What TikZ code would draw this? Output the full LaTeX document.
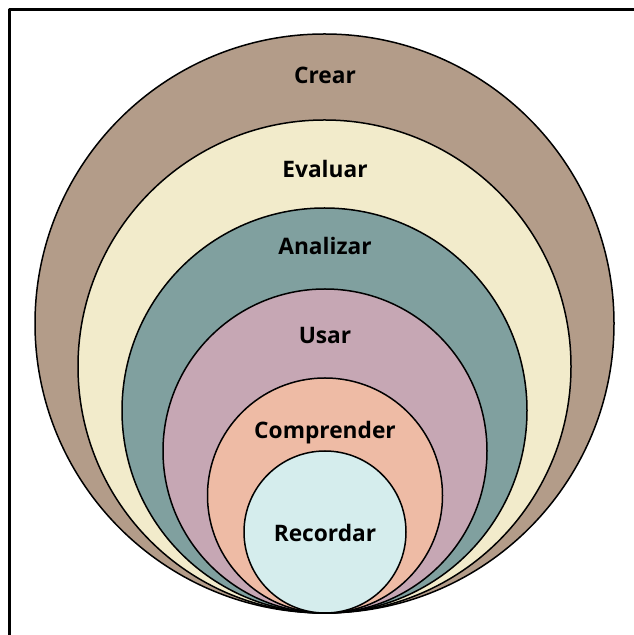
\documentclass[tikz,border=0pt]{standalone}
\usepackage{fontspec}
\setmainfont{Open Sans}
\usetikzlibrary{shapes}

\definecolor{crearcol}{HTML}{B39C89}
\definecolor{evalcol}{HTML}{F2EBCB}
\definecolor{analcol}{HTML}{80A09F}
\definecolor{usarcol}{HTML}{C6A7B4}
\definecolor{compcol}{HTML}{EEBBA5}
\definecolor{recocol}{HTML}{D5EDED}

\begin{document}
\begin{tikzpicture}[x=1bp,y=1bp,line join=bevel,
  ring/.style={circle,draw=black,line width=1.5bp,inner sep=0pt},
  lbl/.style={font=\fontsize{22.8}{26}\selectfont\bfseries,text=black,draw=none}]
\useasboundingbox (0bp,0bp) rectangle (634bp,635bp);
%%
\draw [black,line width=3bp] (9.5bp,0bp) -- (9.5bp,625.5bp) -- (634bp,625.5bp);
%
\node (c_crear) at (324.5bp,311.5bp) [ring,fill=crearcol,minimum size=579bp] {};
  \node (c_eval) at (324.5bp,268.5bp) [ring,fill=evalcol,minimum size=493bp] {};
  \node (c_anal) at (324.5bp,224.5bp) [ring,fill=analcol,minimum size=405bp] {};
  \node (c_usar) at (325bp,184bp) [ring,fill=usarcol,minimum size=324bp] {};
  \node (c_comp) at (325bp,139.5bp) [ring,fill=compcol,minimum size=235bp] {};
  \node (c_reco) at (325bp,103bp) [ring,fill=recocol,minimum size=162bp] {};
%
\node (l_crear) at (325bp,560bp) [lbl] {Crear};
  \node (l_eval) at (325bp,466bp) [lbl] {Evaluar};
  \node (l_anal) at (325bp,389bp) [lbl] {Analizar};
  \node (l_usar) at (325bp,299bp) [lbl] {Usar};
  \node (l_comp) at (325bp,202bp) [lbl] {Comprender};
  \node (l_reco) at (325bp,102bp) [lbl] {Recordar};
%
\end{tikzpicture}
\end{document}
